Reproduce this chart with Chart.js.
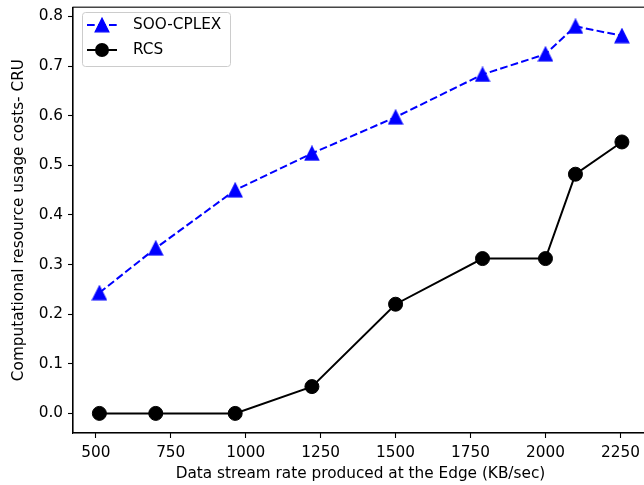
<!DOCTYPE html>
<html>
<head>
<meta charset="utf-8">
<script src="https://cdn.jsdelivr.net/npm/chart.js@4/dist/chart.umd.min.js"></script>
<style>
html,body{margin:0;padding:0;background:#fff;overflow:hidden;width:644px;height:485px;}
#wrap{position:absolute;left:0;top:-7px;width:660px;height:492px;}
canvas{width:660px;height:492px;display:block;}
</style>
</head>
<body>
<div id="wrap"><canvas id="c" width="660" height="492"></canvas></div>
<script>
// ---- data ----
const rates = [512, 700, 965, 1221, 1500, 1790, 2000, 2100, 2255];
const sooCplex = [0.243, 0.333, 0.450, 0.524, 0.597, 0.683, 0.724, 0.780, 0.761];
const rcs = [0, 0, 0, 0.054, 0.220, 0.312, 0.312, 0.482, 0.547];
const xTicks = [500, 750, 1000, 1250, 1500, 1750, 2000, 2250];
const yTicks = [0.0, 0.1, 0.2, 0.3, 0.4, 0.5, 0.6, 0.7, 0.8];
const seriesNames = ['SOO-CPLEX', 'RCS'];
const xTitle = 'Data stream rate produced at the Edge (KB/sec)';
const yTitle = 'Computational resource usage costs- CRU';

const FONT = 'DejaVu Sans';
const FS = 15.3;
const OFFY = 7; // canvas is shifted up by this many px

function triImg(color){
  const c = document.createElement('canvas');
  c.width = 16; c.height = 16;
  const x = c.getContext('2d');
  x.fillStyle = color; x.strokeStyle = color; x.lineWidth = 1.3; x.lineJoin = 'miter';
  x.beginPath(); x.moveTo(8, 1.2); x.lineTo(1.2, 14.8); x.lineTo(14.8, 14.8); x.closePath();
  x.fill(); x.stroke();
  return c;
}
const tri = triImg('#0000ff');

const frame = {
  id: 'frame',
  afterDatasetsDraw(chart){
    const {ctx, chartArea:a} = chart;
    ctx.save();
    ctx.strokeStyle = '#000'; ctx.lineWidth = 1.1;
    ctx.strokeRect(a.left, a.top, a.right - a.left, a.bottom - a.top);
    ctx.restore();
  }
};

const legendBox = {
  id: 'legendBox',
  afterDraw(chart){
    const ctx = chart.ctx;
    const x0 = 82, y0 = 12 + OFFY, w = 148, h = 54, r = 3;
    ctx.save();
    ctx.beginPath();
    ctx.roundRect(x0 + 0.5, y0 + 0.5, w, h, r);
    ctx.fillStyle = 'rgba(255,255,255,0.8)';
    ctx.fill();
    ctx.strokeStyle = '#cccccc'; ctx.lineWidth = 1;
    ctx.stroke();
    const rows = [25 + OFFY, 50 + OFFY];
    chart.data.datasets.forEach((ds, i) => {
      const y = rows[i];
      ctx.beginPath();
      ctx.setLineDash(ds.borderDash || []);
      ctx.strokeStyle = ds.borderColor; ctx.lineWidth = ds.borderWidth;
      ctx.moveTo(87, y); ctx.lineTo(117, y); ctx.stroke();
      ctx.setLineDash([]);
      if (i === 0) {
        ctx.drawImage(tri, 102 - 8, y - 8);
      } else {
        ctx.beginPath(); ctx.arc(102, y, ds.pointRadius, 0, Math.PI * 2);
        ctx.fillStyle = ds.pointBackgroundColor; ctx.fill();
      }
      ctx.fillStyle = '#000';
      ctx.font = FS + 'px "' + FONT + '"';
      ctx.textBaseline = 'middle'; ctx.textAlign = 'left';
      ctx.fillText(ds.label, 133, y + 0.5);
    });
    ctx.restore();
  }
};

new Chart(document.getElementById('c'), {
  type: 'line',
  data: {
    datasets: [
      {
        label: seriesNames[0],
        data: rates.map((x, i) => ({x: x, y: sooCplex[i]})),
        borderColor: '#0000ff', backgroundColor: '#0000ff',
        borderWidth: 2, borderDash: [7.7, 3.3],
        pointStyle: tri, pointRadius: 8,
        pointBackgroundColor: '#0000ff', pointBorderColor: '#0000ff',
        tension: 0, fill: false
      },
      {
        label: seriesNames[1],
        data: rates.map((x, i) => ({x: x, y: rcs[i]})),
        borderColor: '#000000', backgroundColor: '#000000',
        borderWidth: 2,
        pointStyle: 'circle', pointRadius: 7, pointBorderWidth: 1,
        pointBackgroundColor: '#000000', pointBorderColor: '#000000',
        tension: 0, fill: false
      }
    ]
  },
  options: {
    responsive: false,
    animation: false,
    devicePixelRatio: 1,
    layout: {padding: {top: 12, right: 12, left: 0, bottom: 0}},
    plugins: {legend: {display: false}, tooltip: {enabled: false}},
    scales: {
      x: {
        type: 'linear', min: 424, max: 2342,
        afterBuildTicks: s => { s.ticks = xTicks.map(v => ({value: v})); },
        afterFit: s => { s.height = 52; },
        grid: {display: true, drawOnChartArea: false, drawTicks: true, tickLength: 5, color: '#000', tickWidth: 1.1},
        border: {display: true, color: '#000', width: 1.1},
        ticks: {color: '#000', font: {family: FONT, size: FS}, padding: 6, maxRotation: 0,
                callback: v => String(v)},
        title: {display: true, text: xTitle, color: '#000', font: {family: FONT, size: FS}, padding: {top: 0, bottom: 2}}
      },
      y: {
        type: 'linear', min: -0.0395, max: 0.8186,
        afterBuildTicks: s => { s.ticks = yTicks.map(v => ({value: v})); },
        afterFit: s => { s.width = 73; },
        grid: {display: true, drawOnChartArea: false, drawTicks: true, tickLength: 5, color: '#000', tickWidth: 1.1},
        border: {display: true, color: '#000', width: 1.1},
        ticks: {color: '#000', font: {family: FONT, size: FS}, padding: 5,
                callback: v => Number(v).toFixed(1)},
        title: {display: true, text: yTitle, color: '#000', font: {family: FONT, size: FS}, padding: {top: 10, bottom: 0}}
      }
    }
  },
  plugins: [frame, legendBox]
});
</script>
</body>
</html>
